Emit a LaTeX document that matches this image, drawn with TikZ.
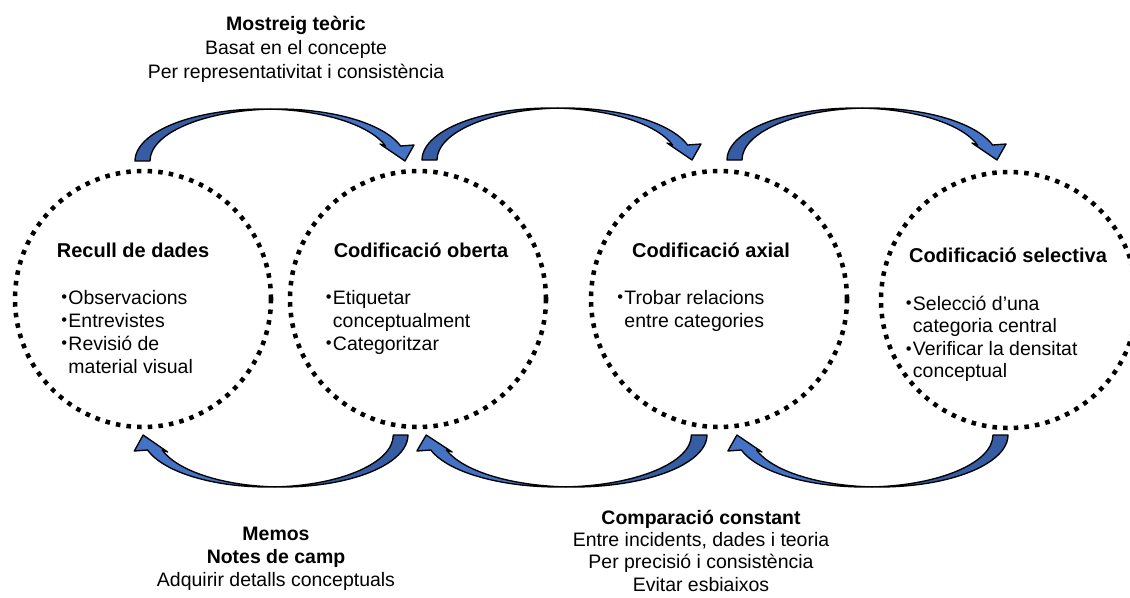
\documentclass[tikz,border=0pt]{standalone}
\usepackage{fontspec}
\setmainfont{Liberation Sans}
\usepackage{graphicx}
\usetikzlibrary{calc}

\definecolor{bandlight}{RGB}{68,114,196}
\definecolor{banddark}{RGB}{54,92,163}

% small list bullet followed by a fixed gap
\newcommand\listdot{\makebox[5.4pt][l]{\raisebox{0.8pt}{\scalebox{0.85}{•}}}}

\tikzset{
  dotcircle/.style={circle, draw=black, line width=3.4pt,
    dash pattern=on 3.4pt off 4.6pt, minimum size=192pt, inner sep=0pt},
  headtext/.style={inner sep=0pt, font=\fontsize{15}{18}\selectfont\bfseries},
  listtext/.style={inner sep=0pt, font=\fontsize{14.6}{17.25}\selectfont},
  listtight/.style={inner sep=0pt, font=\fontsize{14.6}{16.9}\selectfont},
  labeltext/.style={inner sep=0pt, font=\fontsize{14.6}{18}\selectfont},
  labelsmall/.style={inner sep=0pt, font=\fontsize{14.6}{17.25}\selectfont},
  labeltight/.style={inner sep=0pt, font=\fontsize{14.6}{16.8}\selectfont},
  % twisted ribbon arrow: tail at the origin, head at (270,0)
  bandarrow/.pic={
    \path[fill=banddark, draw=black, line width=1pt, line join=round]
      (0,0) arc[start angle=180, end angle=273.36, x radius=128, y radius=52]
            arc[start angle=266.64, end angle=180, x radius=128, y radius=52]
      -- cycle;
    \path[fill=bandlight, draw=black, line width=1pt, line join=round]
      (135.5,-51.91) arc[start angle=273.36, end angle=343.23, x radius=128, y radius=52]
      -- (245,-17) -- (270,0) -- (279,-16) -- (265.56,-15)
      arc[start angle=343.23, end angle=266.64, x radius=128, y radius=52]
      -- cycle;
  }
}

\begin{document}
\begin{tikzpicture}[x=0.75pt, y=-0.75pt]
\path[use as bounding box, fill=white] (0,0) rectangle (1130,597);

% the four coding stages
\node[dotcircle] (c1) at (143,299) {};
\node[dotcircle] (c2) at (418,299) {};
\node[dotcircle] (c3) at (719,299) {};
\node[dotcircle] (c4) at (1009,300) {};

\node[headtext, anchor=base] (t1) at (133,257) {Recull de dades};
\node[headtext, anchor=base] (t2) at (421,257) {Codificació oberta};
\node[headtext, anchor=base] (t3) at (711,257) {Codificació axial};
\node[headtext, anchor=base] (t4) at (1008,262) {Codificació selectiva};

\node[listtext, anchor=base west] (l1) at (61,304) {%
  \begin{tabular}[t]{@{}l@{}l@{}}
  \listdot & Observacions\\
  \listdot & Entrevistes\\
  \listdot & Revisió de\\
           & material visual
  \end{tabular}};
\node[listtext, anchor=base west] (l2) at (325.5,304) {%
  \begin{tabular}[t]{@{}l@{}l@{}}
  \listdot & Etiquetar\\
           & conceptualment\\
  \listdot & Categoritzar
  \end{tabular}};
\node[listtext, anchor=base west] (l3) at (617,304) {%
  \begin{tabular}[t]{@{}l@{}l@{}}
  \listdot & Trobar relacions\\
           & entre categories
  \end{tabular}};
\node[listtight, anchor=base west] (l4) at (905.5,310) {%
  \begin{tabular}[t]{@{}l@{}l@{}}
  \listdot & Selecció d’una\\
           & categoria central\\
  \listdot & Verificar la densitat\\
           & conceptual
  \end{tabular}};

% forward arrows over the top
\begin{scope}[shift={($(c1.center)+(-8,-138)$)}]
  \pic[transform shape] {bandarrow};
\end{scope}
\begin{scope}[shift={($(c2.center)+(4,-139)$)}]
  \pic[transform shape] {bandarrow};
\end{scope}
\begin{scope}[shift={($(c3.center)+(8,-139)$)}]
  \pic[transform shape] {bandarrow};
\end{scope}

% backward arrows underneath
\begin{scope}[shift={($(c2.center)+(-10,136)$)}, rotate=180, xscale=0.981]
  \pic[transform shape] {bandarrow};
\end{scope}
\begin{scope}[shift={($(c3.center)+(-12,136)$)}, rotate=180, xscale=1.04]
  \pic[transform shape] {bandarrow};
\end{scope}
\begin{scope}[shift={($(c4.center)+(-1,135)$)}, rotate=180, xscale=1.004]
  \pic[transform shape] {bandarrow};
\end{scope}

% labels of the loops
\node[labeltext, anchor=base] (mostreig) at (296,30) {%
  \begin{tabular}[t]{@{}c@{}}
  \textbf{Mostreig teòric}\\
  Basat en el concepte\\
  Per representativitat i consistència
  \end{tabular}};
\node[labelsmall, anchor=base] (memos) at (276,540) {%
  \begin{tabular}[t]{@{}c@{}}
  \textbf{Memos}\\
  \textbf{Notes de camp}\\
  Adquirir detalls conceptuals
  \end{tabular}};
\node[labeltight, anchor=base] (comparacio) at (701,524) {%
  \begin{tabular}[t]{@{}c@{}}
  \textbf{Comparació constant}\\
  Entre incidents, dades i teoria\\
  Per precisió i consistència\\
  Evitar esbiaixos
  \end{tabular}};
\end{tikzpicture}
\end{document}
